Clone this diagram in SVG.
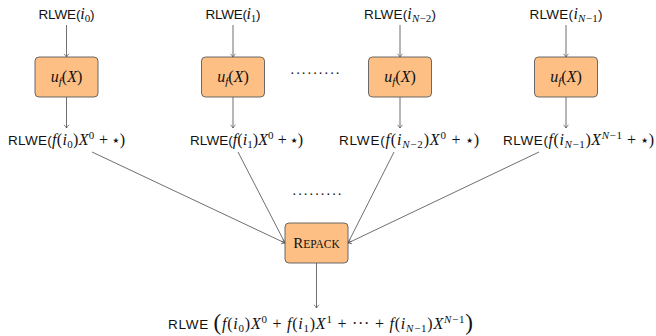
<svg xmlns="http://www.w3.org/2000/svg" width="656" height="336" viewBox="0 0 656 336">
  <style>
    text { fill: #111; }
    .sans { font-family: "Liberation Sans", Arial, sans-serif; font-size: 13.5px; }
    .mi { font-family: "Liberation Serif", "Times New Roman", serif; font-style: italic; font-size: 16px; }
    .rm { font-family: "Liberation Serif", "Times New Roman", serif; font-size: 16px; }
    .sub { font-family: "Liberation Serif", "Times New Roman", serif; font-size: 11px; }
    .subi { font-family: "Liberation Serif", "Times New Roman", serif; font-style: italic; font-size: 11px; }
    .star { font-family: "DejaVu Sans", sans-serif; font-size: 7.5px; }
    .big { font-family: "Liberation Serif", "Times New Roman", serif; font-size: 23px; }
    .sc1 { font-family: "Liberation Serif", "Times New Roman", serif; font-size: 15px; }
    .sc2 { font-family: "Liberation Serif", "Times New Roman", serif; font-size: 11.5px; }
    .dots { font-family: "Liberation Serif", serif; font-size: 14px; }
    .box { fill: #FDBF84; stroke: #5a5a5a; stroke-width: 0.9; }
    .edge { fill: none; stroke: #4a4a4a; stroke-width: 0.8; marker-end: url(#tip); }
  </style>
  <defs>
    <marker id="tip" markerUnits="userSpaceOnUse" viewBox="-5 -4 6 8" markerWidth="6" markerHeight="8" refX="0" refY="0" orient="auto">
      <path d="M-3.2,-2.4 Q-1,-0.6 0,0 Q-1,0.6 -3.2,2.4" fill="none" stroke="#4a4a4a" stroke-width="0.7"/>
    </marker>
  </defs>

  <!-- connectors -->
  <g id="connectors">
    <line class="edge" x1="66.5" y1="25" x2="66.5" y2="57"/>
    <line class="edge" x1="233" y1="25" x2="233" y2="57"/>
    <line class="edge" x1="400" y1="25" x2="400" y2="57"/>
    <line class="edge" x1="566" y1="25" x2="566" y2="57"/>
    <line class="edge" x1="66.5" y1="97" x2="66.5" y2="128"/>
    <line class="edge" x1="233" y1="97" x2="233" y2="128"/>
    <line class="edge" x1="400" y1="97" x2="400" y2="128"/>
    <line class="edge" x1="566" y1="97" x2="566" y2="128"/>
    <line class="edge" x1="92" y1="152" x2="285" y2="243"/>
    <line class="edge" x1="238" y1="152" x2="285" y2="243"/>
    <line class="edge" x1="394" y1="152" x2="348" y2="243"/>
    <line class="edge" x1="539" y1="152" x2="348" y2="243"/>
    <line class="edge" x1="316.5" y1="263" x2="316.5" y2="308"/>
  </g>

  <!-- inputs -->
  <g id="in0"><text x="66.5" y="19" text-anchor="middle" textLength="56" lengthAdjust="spacing"><tspan class="sans">RLWE(</tspan><tspan class="mi">i</tspan><tspan class="sub" dy="2.5">0</tspan><tspan class="sans" dy="-2.5">)</tspan></text></g>
  <g id="in1"><text x="233" y="19" text-anchor="middle" textLength="55" lengthAdjust="spacing"><tspan class="sans">RLWE(</tspan><tspan class="mi">i</tspan><tspan class="sub" dy="2.5">1</tspan><tspan class="sans" dy="-2.5">)</tspan></text></g>
  <g id="in2"><text x="400" y="19" text-anchor="middle" textLength="72" lengthAdjust="spacing"><tspan class="sans">RLWE(</tspan><tspan class="mi">i</tspan><tspan class="subi" dy="2.5">N</tspan><tspan class="sub">−2</tspan><tspan class="sans" dy="-2.5">)</tspan></text></g>
  <g id="in3"><text x="566" y="19" text-anchor="middle" textLength="73" lengthAdjust="spacing"><tspan class="sans">RLWE(</tspan><tspan class="mi">i</tspan><tspan class="subi" dy="2.5">N</tspan><tspan class="sub">−1</tspan><tspan class="sans" dy="-2.5">)</tspan></text></g>

  <!-- u_f(X) nodes -->
  <g id="uf0"><rect class="box" x="35" y="57" width="63" height="40" rx="4"/><text x="66.5" y="82" text-anchor="middle"><tspan class="mi">u</tspan><tspan class="subi" dy="2.5">f</tspan><tspan class="rm" dy="-2.5">(</tspan><tspan class="mi">X</tspan><tspan class="rm">)</tspan></text></g>
  <g id="uf1"><rect class="box" x="201.5" y="57" width="63" height="40" rx="4"/><text x="233" y="82" text-anchor="middle"><tspan class="mi">u</tspan><tspan class="subi" dy="2.5">f</tspan><tspan class="rm" dy="-2.5">(</tspan><tspan class="mi">X</tspan><tspan class="rm">)</tspan></text></g>
  <g id="uf2"><rect class="box" x="368.5" y="57" width="63" height="40" rx="4"/><text x="400" y="82" text-anchor="middle"><tspan class="mi">u</tspan><tspan class="subi" dy="2.5">f</tspan><tspan class="rm" dy="-2.5">(</tspan><tspan class="mi">X</tspan><tspan class="rm">)</tspan></text></g>
  <g id="uf3"><rect class="box" x="534.5" y="57" width="63" height="40" rx="4"/><text x="566" y="82" text-anchor="middle"><tspan class="mi">u</tspan><tspan class="subi" dy="2.5">f</tspan><tspan class="rm" dy="-2.5">(</tspan><tspan class="mi">X</tspan><tspan class="rm">)</tspan></text></g>

  <g id="dots-top"><text class="dots" x="315" y="78" text-anchor="middle" textLength="50" lengthAdjust="spacing">·········</text></g>

  <!-- intermediate ciphertexts -->
  <g id="out0"><text x="66.5" y="145" text-anchor="middle" textLength="117" lengthAdjust="spacing"><tspan class="sans">RLWE(</tspan><tspan class="mi">f</tspan><tspan class="rm">(</tspan><tspan class="mi">i</tspan><tspan class="sub" dy="2.5">0</tspan><tspan class="rm" dy="-2.5">)</tspan><tspan class="mi">X</tspan><tspan class="sub" dy="-6">0</tspan><tspan class="rm" dy="6"> + </tspan><tspan class="star" dy="-2.5">★</tspan><tspan class="rm" dy="2.5">)</tspan></text></g>
  <g id="out1"><text x="246.5" y="145" text-anchor="middle" textLength="113" lengthAdjust="spacing"><tspan class="sans">RLWE(</tspan><tspan class="mi">f</tspan><tspan class="rm">(</tspan><tspan class="mi">i</tspan><tspan class="sub" dy="2.5">1</tspan><tspan class="rm" dy="-2.5">)</tspan><tspan class="mi">X</tspan><tspan class="sub" dy="-6">0</tspan><tspan class="rm" dy="6"> + </tspan><tspan class="star" dy="-2.5">★</tspan><tspan class="rm" dy="2.5">)</tspan></text></g>
  <g id="out2"><text x="409" y="145" text-anchor="middle" textLength="140" lengthAdjust="spacing"><tspan class="sans">RLWE(</tspan><tspan class="mi">f</tspan><tspan class="rm">(</tspan><tspan class="mi">i</tspan><tspan class="subi" dy="2.5">N</tspan><tspan class="sub">−2</tspan><tspan class="rm" dy="-2.5">)</tspan><tspan class="mi">X</tspan><tspan class="sub" dy="-6">0</tspan><tspan class="rm" dy="6"> + </tspan><tspan class="star" dy="-2.5">★</tspan><tspan class="rm" dy="2.5">)</tspan></text></g>
  <g id="out3"><text x="578.5" y="145" text-anchor="middle" textLength="151" lengthAdjust="spacing"><tspan class="sans">RLWE(</tspan><tspan class="mi">f</tspan><tspan class="rm">(</tspan><tspan class="mi">i</tspan><tspan class="subi" dy="2.5">N</tspan><tspan class="sub">−1</tspan><tspan class="rm" dy="-2.5">)</tspan><tspan class="mi">X</tspan><tspan class="subi" dy="-6">N</tspan><tspan class="sub">−1</tspan><tspan class="rm" dy="6"> + </tspan><tspan class="star" dy="-2.5">★</tspan><tspan class="rm" dy="2.5">)</tspan></text></g>

  <g id="dots-mid"><text class="dots" x="317" y="199" text-anchor="middle" textLength="50" lengthAdjust="spacing">·········</text></g>

  <!-- repack node -->
  <g id="repack"><rect class="box" x="285" y="223" width="63" height="40" rx="4"/><text x="316.5" y="248" text-anchor="middle"><tspan class="sc1">R</tspan><tspan class="sc2">EPACK</tspan></text></g>

  <!-- packed result -->
  <g id="result"><text x="320.5" y="329" text-anchor="middle" textLength="305" lengthAdjust="spacing"><tspan class="sans">RLWE </tspan><tspan class="big" dy="1">(</tspan><tspan class="mi" dy="-1">f</tspan><tspan class="rm">(</tspan><tspan class="mi">i</tspan><tspan class="sub" dy="2.5">0</tspan><tspan class="rm" dy="-2.5">)</tspan><tspan class="mi">X</tspan><tspan class="sub" dy="-6">0</tspan><tspan class="rm" dy="6"> + </tspan><tspan class="mi">f</tspan><tspan class="rm">(</tspan><tspan class="mi">i</tspan><tspan class="sub" dy="2.5">1</tspan><tspan class="rm" dy="-2.5">)</tspan><tspan class="mi">X</tspan><tspan class="sub" dy="-6">1</tspan><tspan class="rm" dy="6"> + ··· + </tspan><tspan class="mi">f</tspan><tspan class="rm">(</tspan><tspan class="mi">i</tspan><tspan class="subi" dy="2.5">N</tspan><tspan class="sub">−1</tspan><tspan class="rm" dy="-2.5">)</tspan><tspan class="mi">X</tspan><tspan class="subi" dy="-6">N</tspan><tspan class="sub">−1</tspan><tspan class="big" dy="7">)</tspan></text></g>
</svg>
